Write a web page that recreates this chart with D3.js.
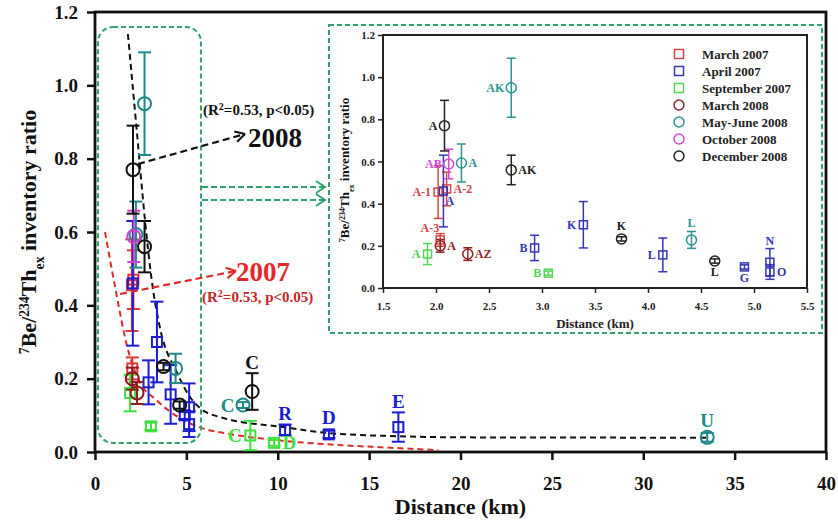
<!DOCTYPE html>
<html>
<head>
<meta charset="utf-8">
<script src="https://cdn.jsdelivr.net/npm/d3@7"></script>
<style>
  body { margin: 0; background: #fff; }
  text { font-family: "Liberation Serif", "Times New Roman", serif; font-weight: bold; }
</style>
</head>
<body>
<svg id="chart" width="838" height="527"></svg>
<script>
// ---- data ----
var seriesNames = ["March 2007", "April 2007", "September 2007", "March 2008", "May-June 2008", "October 2008", "December 2008"];

// x = distance (km), y = ratio, e = error half-width
var march2007 = [
  {x: 2.02, y: 0.455, e: 0.125, lab: "A-1"},
  {x: 2.10, y: 0.47, e: 0.08, lab: "A-2"},
  {x: 2.04, y: 0.228, e: 0.03, lab: "A-3"}
];
var april2007 = [
  {x: 2.07, y: 0.46, e: 0.17, lab: "A"},
  {x: 2.93, y: 0.19, e: 0.06, lab: "B"},
  {x: 3.39, y: 0.30, e: 0.11, lab: "K"},
  {x: 4.14, y: 0.157, e: 0.08, lab: "L"},
  {x: 4.91, y: 0.10, e: 0.01, lab: "G"},
  {x: 5.15, y: 0.122, e: 0.065, lab: "N"},
  {x: 5.15, y: 0.076, e: 0.035, lab: "O"},
  {x: 10.4, y: 0.06, e: 0.015, lab: "R"},
  {x: 12.8, y: 0.048, e: 0.01, lab: "D"},
  {x: 16.6, y: 0.068, e: 0.04, lab: "E"}
];
var september2007 = [
  {x: 1.92, y: 0.161, e: 0.05, lab: "A"},
  {x: 3.06, y: 0.07, e: 0.01, lab: "B"},
  {x: 8.5, y: 0.045, e: 0.04, lab: "C"},
  {x: 9.8, y: 0.025, e: 0.008, lab: "D"}
];
var march2008 = [
  {x: 2.04, y: 0.20, e: 0.03, lab: "A"},
  {x: 2.30, y: 0.161, e: 0.03, lab: "AZ"}
];
var mayJune2008 = [
  {x: 2.71, y: 0.95, e: 0.14, lab: "AK"},
  {x: 2.24, y: 0.593, e: 0.09, lab: "A"},
  {x: 4.41, y: 0.228, e: 0.04, lab: "L"},
  {x: 8.1, y: 0.128, e: 0.008, lab: "C"},
  {x: 33.5, y: 0.04, e: 0.012, lab: "U"}
];
var october2008 = [
  {x: 2.12, y: 0.588, e: 0.07, lab: "AB"}
];
var december2008 = [
  {x: 2.08, y: 0.77, e: 0.12, lab: "A"},
  {x: 2.71, y: 0.56, e: 0.07, lab: "AK"},
  {x: 3.75, y: 0.233, e: 0.01, lab: "K"},
  {x: 4.63, y: 0.128, e: 0.01, lab: "L"},
  {x: 8.6, y: 0.165, e: 0.05, lab: "C"}
];
var seriesData = [march2007, april2007, september2007, march2008, mayJune2008, october2008, december2008];

// dashed fit curves
var fit2008 = [[1.8, 1.14], [2.27, 0.885], [2.74, 0.63], [3.1, 0.47], [3.55, 0.34], [4.5, 0.215], [5.2, 0.15],
  [5.74, 0.12], [7, 0.093], [10.3, 0.068], [12.7, 0.052], [16.6, 0.043], [20, 0.04], [33.5, 0.039]];
var fit2007 = [[0.55, 0.60], [1.1, 0.45], [1.75, 0.29], [2.35, 0.20], [3.4, 0.14], [4.8, 0.088], [5.7, 0.068],
  [7.5, 0.048], [10, 0.032], [13, 0.02], [16, 0.012], [18.8, 0.005]];

var mainXTicks = [0, 5, 10, 15, 20, 25, 30, 35, 40];
var mainYTicks = [0, 0.2, 0.4, 0.6, 0.8, 1.0, 1.2];
var insetXTicks = [1.5, 2.0, 2.5, 3.0, 3.5, 4.0, 4.5, 5.0, 5.5];
var insetYTicks = [0, 0.2, 0.4, 0.6, 0.8, 1.0, 1.2];

// ---- styles ----
var mainColor = ["#e23535", "#1c1cd4", "#3ee03e", "#8b1c1c", "#1d8888", "#d23cd2", "#111111"];
var insetColor = ["#d84444", "#3535b5", "#55d455", "#8e2525", "#2c9494", "#d448d4", "#222222"];
var shape = ["square", "square", "square", "circle", "circle", "circle", "circle"];

// where each label sits relative to its point
var insetSide = {
  "0A-1": "l", "0A-2": "r", "0A-3": "tl",
  "1A": "br", "1B": "l", "1K": "l", "1L": "l", "1G": "b", "1N": "t", "1O": "r",
  "2A": "l", "2B": "l",
  "3A": "r", "3AZ": "r",
  "4AK": "l", "4A": "r", "4L": "t",
  "5AB": "l",
  "6A": "l", "6AK": "r", "6K": "t", "6L": "b"
};
var mainSide = {"1R": "t", "1D": "t", "1E": "t", "2C": "l", "2D": "r", "4C": "l", "4U": "t", "6C": "t"};

var svg = d3.select("#chart");
var green = "#2fa36c";

// ---- main chart ----
var x = d3.scaleLinear().domain([0, 40]).range([95, 826]);
var y = d3.scaleLinear().domain([0, 1.2]).range([452, 12]);

var main = svg.append("g");

main.append("g")
    .attr("transform", "translate(0,452)")
    .call(d3.axisBottom(x).tickValues(mainXTicks).tickFormat(d3.format("d")).tickSize(8).tickSizeOuter(0).tickPadding(17))
    .call(function(g){ g.select(".domain").remove(); })
    .call(function(g){ g.selectAll("line").attr("stroke", "#111").attr("stroke-width", 2.5); })
    .call(function(g){ g.selectAll("text").attr("font-size", 19).attr("fill", "#111").attr("font-family", null); });

main.append("g")
    .attr("transform", "translate(95,0)")
    .call(d3.axisLeft(y).tickValues(mainYTicks).tickFormat(d3.format(".1f")).tickSize(8).tickSizeOuter(0).tickPadding(9))
    .call(function(g){ g.select(".domain").remove(); })
    .call(function(g){ g.selectAll("line").attr("stroke", "#111").attr("stroke-width", 2.5); })
    .call(function(g){ g.selectAll("text").attr("font-size", 19).attr("fill", "#111").attr("font-family", null); });

main.append("rect")
    .attr("x", x(0)).attr("y", y(1.2))
    .attr("width", x(40) - x(0)).attr("height", y(0) - y(1.2))
    .attr("fill", "none").attr("stroke", "#111").attr("stroke-width", 2.8);

// axis titles
main.append("text")
    .attr("x", x(20)).attr("y", 514)
    .attr("text-anchor", "middle").attr("font-size", 22).attr("fill", "#111")
    .text("Distance (km)");

function ratioTitle(g, size) {
  var t = g.append("text").attr("text-anchor", "middle").attr("font-size", size).attr("fill", "#111");
  t.append("tspan").attr("baseline-shift", "super").attr("font-size", size * 0.62).text("7");
  t.append("tspan").text("Be/");
  t.append("tspan").attr("baseline-shift", "super").attr("font-size", size * 0.62).text("234");
  t.append("tspan").text("Th");
  t.append("tspan").attr("baseline-shift", "sub").attr("font-size", size * 0.62).text("ex");
  t.append("tspan").text(" inventory ratio");
  return t;
}
ratioTitle(main, 22).attr("transform", "translate(36,232) rotate(-90)");

// fit curves
var line = d3.line().curve(d3.curveMonotoneX);
main.append("path")
    .attr("d", line(fit2008.map(function(p){ return [x(p[0]), y(p[1])]; })))
    .attr("fill", "none").attr("stroke", "#111").attr("stroke-width", 2).attr("stroke-dasharray", "6,4");
main.append("path")
    .attr("d", line(fit2007.map(function(p){ return [x(p[0]), y(p[1])]; })))
    .attr("fill", "none").attr("stroke", "#e02a2a").attr("stroke-width", 2).attr("stroke-dasharray", "6,4");

function drawPoints(g, sx, sy, pts, color, shp, opt) {
  pts.forEach(function(d){
    if (d.x < sx.domain()[0] || d.x > sx.domain()[1]) return;
    var cx = sx(d.x), cy = sy(d.y);
    var top = sy(d.y + d.e), bot = sy(d.y - d.e);
    g.append("line").attr("x1", cx).attr("x2", cx).attr("y1", top).attr("y2", bot)
        .attr("stroke", color).attr("stroke-width", opt.sw);
    [top, bot].forEach(function(v){
      g.append("line").attr("x1", cx - opt.cap).attr("x2", cx + opt.cap).attr("y1", v).attr("y2", v)
          .attr("stroke", color).attr("stroke-width", opt.sw);
    });
    if (shp === "square") {
      g.append("rect").attr("x", cx - opt.sq / 2).attr("y", cy - opt.sq / 2)
          .attr("width", opt.sq).attr("height", opt.sq)
          .attr("fill", "none").attr("stroke", color).attr("stroke-width", opt.sw);
    } else {
      g.append("circle").attr("cx", cx).attr("cy", cy).attr("r", opt.r)
          .attr("fill", "none").attr("stroke", color).attr("stroke-width", opt.sw);
    }
  });
}

function drawLabels(g, sx, sy, pts, color, key, sides, opt) {
  pts.forEach(function(d){
    var side = sides[key + d.lab];
    if (!side) return;
    var cx = sx(d.x), cy = sy(d.y);
    var top = Math.min(cy - opt.r, sy(d.y + d.e));
    var fs = opt.fs, px = cx, py = cy + fs * 0.35, anchor = "middle";
    if (side === "l") { px = cx - opt.r - 2; anchor = "end"; }
    if (side === "r") { px = cx + opt.r + 2; anchor = "start"; }
    if (side === "t") { py = top - 4; }
    if (side === "b") { py = cy + opt.r + fs * 0.8; }
    if (side === "tl") { px = cx - 1; py = cy - opt.r - 3; anchor = "end"; }
    if (side === "br") { px = cx + 2; py = cy + opt.r + fs * 0.75; anchor = "start"; }
    g.append("text").attr("x", px).attr("y", py).attr("text-anchor", anchor)
        .attr("font-size", fs).attr("fill", color).text(d.lab);
  });
}

var mainOpt = {sw: 2, cap: 6.5, sq: 10, r: 6.5, fs: 19};
seriesData.forEach(function(pts, i){
  drawPoints(main, x, y, pts, mainColor[i], shape[i], mainOpt);
  drawLabels(main, x, y, pts, mainColor[i], String(i), mainSide, mainOpt);
});

// rounded highlight box round the near-shore points
main.append("rect")
    .attr("x", 98).attr("y", 27).attr("width", 103).attr("height", 416)
    .attr("rx", 15).attr("ry", 15)
    .attr("fill", "none").attr("stroke", green).attr("stroke-width", 2).attr("stroke-dasharray", "5,3");

// arrows and fit notes
function arrow(g, x1, y1, x2, y2, color) {
  g.append("line").attr("x1", x1).attr("y1", y1).attr("x2", x2).attr("y2", y2)
      .attr("stroke", color).attr("stroke-width", 2.2).attr("stroke-dasharray", "7,4");
  var a = Math.atan2(y2 - y1, x2 - x1), L = 11;
  [0.5, -0.5].forEach(function(s){
    g.append("line").attr("x1", x2).attr("y1", y2)
        .attr("x2", x2 - L * Math.cos(a + s)).attr("y2", y2 - L * Math.sin(a + s))
        .attr("stroke", color).attr("stroke-width", 2.2);
  });
}
arrow(main, 138, 164, 245, 134, "#111");
arrow(main, 120, 294, 236, 271, "#e02a2a");

function rNote(g, px, py, color) {
  var t = g.append("text").attr("x", px).attr("y", py).attr("font-size", 15).attr("fill", color);
  t.append("tspan").text("(R");
  t.append("tspan").attr("baseline-shift", "super").attr("font-size", 10).text("2");
  t.append("tspan").text("=0.53, p<0.05)");
}
rNote(main, 203, 115, "#111");
main.append("text").attr("x", 248).attr("y", 147).attr("font-size", 27).attr("fill", "#111").text("2008");
main.append("text").attr("x", 236).attr("y", 281).attr("font-size", 27).attr("fill", "#e8262a").text("2007");
rNote(main, 202, 302, "#c4262a");

// double green arrow towards the inset
[187, 200].forEach(function(yy){
  main.append("line").attr("x1", 202).attr("x2", 325).attr("y1", yy).attr("y2", yy)
      .attr("stroke", green).attr("stroke-width", 2).attr("stroke-dasharray", "6,3");
  main.append("path").attr("d", "M316," + (yy - 6) + "L325," + yy + "L316," + (yy + 6))
      .attr("fill", "none").attr("stroke", green).attr("stroke-width", 2);
});

// ---- inset ----
var inset = svg.append("g");
inset.append("rect")
    .attr("x", 329).attr("y", 25).attr("width", 493).attr("height", 308)
    .attr("fill", "#fff").attr("stroke", green).attr("stroke-width", 2).attr("stroke-dasharray", "5,3");

var ix = d3.scaleLinear().domain([1.5, 5.5]).range([383, 807]);
var iy = d3.scaleLinear().domain([0, 1.2]).range([288, 35]);

inset.append("g")
    .attr("transform", "translate(0,288)")
    .call(d3.axisBottom(ix).tickValues(insetXTicks).tickFormat(d3.format(".1f")).tickSize(5).tickSizeOuter(0).tickPadding(9))
    .call(function(g){ g.select(".domain").remove(); })
    .call(function(g){ g.selectAll("line").attr("stroke", "#222").attr("stroke-width", 1.5); })
    .call(function(g){ g.selectAll("text").attr("font-size", 11).attr("fill", "#222").attr("font-family", null); });

inset.append("g")
    .attr("transform", "translate(383,0)")
    .call(d3.axisLeft(iy).tickValues(insetYTicks).tickFormat(d3.format(".1f")).tickSize(5).tickSizeOuter(0).tickPadding(3))
    .call(function(g){ g.select(".domain").remove(); })
    .call(function(g){ g.selectAll("line").attr("stroke", "#222").attr("stroke-width", 1.5); })
    .call(function(g){ g.selectAll("text").attr("font-size", 11).attr("fill", "#222").attr("font-family", null); });

inset.append("rect")
    .attr("x", ix(1.5)).attr("y", iy(1.2))
    .attr("width", ix(5.5) - ix(1.5)).attr("height", iy(0) - iy(1.2))
    .attr("fill", "none").attr("stroke", "#222").attr("stroke-width", 2);

inset.append("text")
    .attr("x", ix(3.5)).attr("y", 328)
    .attr("text-anchor", "middle").attr("font-size", 13).attr("fill", "#222")
    .text("Distance (km)");
ratioTitle(inset, 13).attr("transform", "translate(349,170) rotate(-90)");

var insetOpt = {sw: 1.5, cap: 4.5, sq: 8, r: 5, fs: 12};
seriesData.forEach(function(pts, i){
  drawPoints(inset, ix, iy, pts, insetColor[i], shape[i], insetOpt);
  drawLabels(inset, ix, iy, pts, insetColor[i], String(i), insetSide, insetOpt);
});

// legend
var legend = inset.append("g").attr("transform", "translate(679,54)");
seriesNames.forEach(function(name, i){
  var row = legend.append("g").attr("transform", "translate(0," + (i * 17) + ")");
  if (shape[i] === "square") {
    row.append("rect").attr("x", -4.5).attr("y", -4.5).attr("width", 9).attr("height", 9)
        .attr("fill", "none").attr("stroke", insetColor[i]).attr("stroke-width", 1.5);
  } else {
    row.append("circle").attr("r", 5)
        .attr("fill", "none").attr("stroke", insetColor[i]).attr("stroke-width", 1.5);
  }
  row.append("text").attr("x", 23).attr("y", 4.5).attr("font-size", 13).attr("fill", "#222").text(name);
});
</script>
</body>
</html>
